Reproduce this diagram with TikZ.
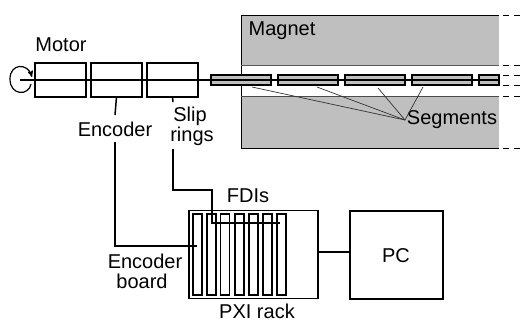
\documentclass[tikz,border=0pt]{standalone}
\usepackage{fontspec}
\setmainfont{Liberation Sans}
\usetikzlibrary{arrows}
\definecolor{magnetgray}{HTML}{BFBFBF}
\tikzset{
	unitbox/.style={draw,line width=1.5pt,outer sep=0pt,inner sep=0pt,minimum width=51pt,minimum height=34pt},
	magnetblock/.style={fill=magnetgray,outer sep=0pt,inner sep=0pt,minimum width=258pt},
	segbox/.style={draw,fill=magnetgray,line width=1.5pt,outer sep=0pt,inner sep=0pt,minimum width=60pt,minimum height=10pt},
	cardbox/.style={draw,line width=1.5pt,outer sep=0pt,inner sep=0pt,minimum width=9pt,minimum height=81pt},
	wire/.style={line width=1.5pt},
	leader/.style={line width=0.7pt,draw=black!80},
	dashline/.style={line width=0.9pt,dash pattern=on 0pt off 4pt on 6pt off 5pt on 6pt off 100pt},
	lbl/.style={inner sep=0pt,font=\fontsize{20}{22}\selectfont}
}
\begin{document}
\begin{tikzpicture}[x=1pt,y=-1pt,>=stealth',node distance=56pt]
	\useasboundingbox (0,0) rectangle (520,322);
	% magnet
	\node[magnetblock,minimum height=50pt] (magtop) at (370,40) {};
	\node[magnetblock,minimum height=52pt] (magbot) at (370,122) {};
	\draw[line width=1pt] (magtop.north east) -- (magtop.north west) -- (magbot.south west) -- (magbot.south east);
	\draw[line width=1pt,draw=black!65] (magtop.south west) -- (magtop.south east);
	\draw[line width=0.7pt,draw=black!70] (magbot.north west) -- (magbot.north east);
	% rotor units
	\node[unitbox] (motor) at (60.5,80) {};
	\node[unitbox] (encoder) [right of = motor] {};
	\node[unitbox] (slip) [right of = encoder] {};
	% segments
	\node[segbox] (seg1) at (241,80) {};
	\node[segbox,node distance=67pt] (seg2) [right of = seg1] {};
	\node[segbox,node distance=67pt] (seg3) [right of = seg2] {};
	\node[segbox,node distance=67pt] (seg4) [right of = seg3] {};
	\node[segbox,minimum width=20pt,node distance=47pt] (seg5) [right of = seg4] {};
	% shaft and rotation
	\coordinate (shaftstart) at (20,80);
	\coordinate (shaftend) at (499,80);
	\coordinate (rotstart) at (31,84);
	\coordinate (rotend) at (32,77);
	\draw[wire] (shaftstart) -- (shaftend);
	\draw[->,line width=1.2pt] (rotstart) .. controls (29,96) and (10,96) .. (10,79) .. controls (10,63) and (28,63) .. (rotend);
	% dashes
	\coordinate (d1) at (520,15);
	\coordinate (d2) at (520,65);
	\coordinate (d3) at (520,75);
	\coordinate (d4) at (520,85);
	\coordinate (d5) at (520,96);
	\coordinate (d6) at (520,148);
	\draw[dashline] (magtop.north east) -- (d1);
	\draw[dashline] (magtop.south east) -- (d2);
	\draw[dashline] (seg5.north east) -- (d3);
	\draw[dashline] (seg5.south east) -- (d4);
	\draw[dashline] (magbot.north east) -- (d5);
	\draw[dashline] (magbot.south east) -- (d6);
	% labels
	\node[lbl] (motorlabel) at (61,45) {Motor};
	\node[lbl] (magnetlabel) at (282,31) {Magnet};
	\node[lbl] (encoderlabel) at (115,129) {Encoder};
	\node[lbl] (sliplabel) at (190,116) {Slip};
	\node[lbl] (ringslabel) at (192,136) {rings};
	\node[lbl] (seglabel) at (452,120) {Segments};
	\node[lbl] (fdilabel) at (248,196) {FDIs};
	\node[lbl] (boardlabel) at (145,261) {Encoder};
	\node[lbl] (boardlabelb) at (142,281) {board};
	\node[lbl] (rackname) at (257,311) {PXI rack};
	% segment leaders
	\coordinate (apex) at (405,120);
	\coordinate (l1) at (252,87);
	\coordinate (l2) at (317,87);
	\coordinate (l3) at (378,88);
	\coordinate (l4) at (423,87);
	\draw[leader] (l1) -- (apex);
	\draw[leader] (l2) -- (apex);
	\draw[leader] (l3) -- (apex);
	\draw[leader] (l4) -- (apex);
	% rack
	\node[draw,line width=1.5pt,outer sep=0pt,minimum width=129pt,minimum height=88pt] (rack) at (253.5,254.5) {};
	\node[draw,line width=1.5pt,outer sep=0pt,minimum width=93pt,minimum height=88pt] (pc) at (396.5,255) {};
	\node[lbl] (pclabel) at (396,256) {PC};
	\node[cardbox] (card1) at (197.5,254.5) {};
	\node[cardbox] (card2) at (211.5,254.5) {};
	\node[cardbox] (card3) at (225,254.5) {};
	\node[cardbox] (card4) at (239.5,254.5) {};
	\node[cardbox] (card5) at (253.5,254.5) {};
	\node[cardbox] (card6) at (267.5,254.5) {};
	\node[cardbox] (card7) at (281.5,254.5) {};
	% wiring
	\coordinate (enctop) at (115,115);
	\coordinate (encgap) at (115,142);
	\coordinate (encend) at (197,246);
	\coordinate (sliptop) at (173,102);
	\coordinate (slipgap) at (173,149);
	\coordinate (slipbend) at (212,190);
	\coordinate (fdiend) at (280,223);
	\coordinate (rackport) at (318,252);
	\coordinate (pcport) at (350,252);
	\draw[wire] (encoder.south) -- (enctop);
	\draw[wire] (encgap) |- (encend);
	\draw[wire] (slip.south) -- (sliptop);
	\draw[wire] (slipgap) |- (slipbend) |- (fdiend);
	\draw[wire] (rackport) -- (pcport);
\end{tikzpicture}
\end{document}
